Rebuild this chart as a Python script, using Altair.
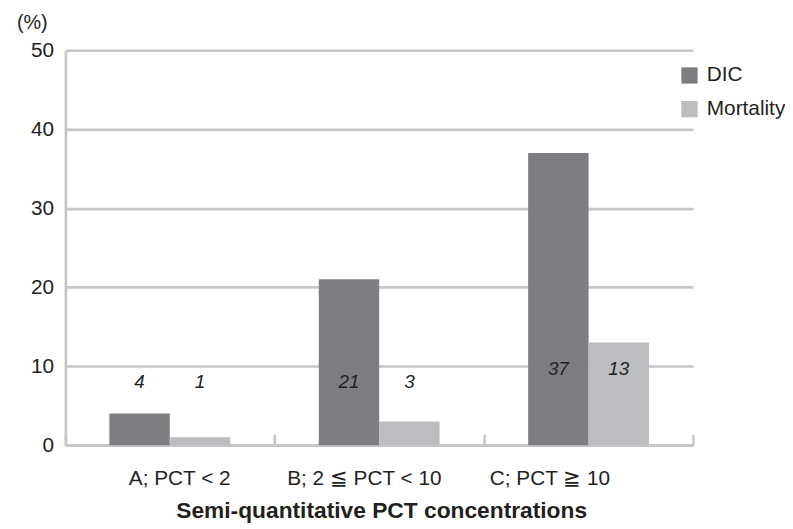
import altair as alt
import pandas as pd

categories = ["A; PCT < 2", "B; 2 ≦ PCT < 10", "C; PCT ≧ 10"]
series = ["DIC", "Mortality"]
dic_values = [4, 21, 37]
mortality_values = [1, 3, 13]
label_heights = [8.0, 8.0, 9.7]

rows = []
for i, c in enumerate(categories):
    rows.append({"cat": c, "series": "DIC", "value": dic_values[i], "lab": label_heights[i]})
    rows.append({"cat": c, "series": "Mortality", "value": mortality_values[i], "lab": label_heights[i]})
df = pd.DataFrame(rows)

FONT = "Liberation Sans"
GRID = "#c6c6c6"
TXT = "#231f20"

xscale = alt.Scale(domain=categories, paddingInner=0.423, paddingOuter=0.21)
tscale = alt.Scale(domain=categories, paddingInner=0, paddingOuter=0)
yscale = alt.Scale(domain=[0, 50], nice=False)
color = alt.Scale(domain=series, range=["#7d7e82", "#bcbdc1"])

base = alt.Chart(df)

bars = base.mark_bar().encode(
    x=alt.X("cat:N", scale=xscale, sort=categories,
            axis=alt.Axis(title="Semi-quantitative PCT concentrations", labelAngle=0,
                          labelFontSize=21, labelColor=TXT, labelPadding=23,
                          labelOffset={"expr": "substring(datum.value,0,1)=='A' ? 10 : (substring(datum.value,0,1)=='B' ? -15 : -39)"},
                          titleFontSize=23, titleFontWeight="bold", titleColor=TXT,
                          titlePadding=11, titleX=319, ticks=False, domainColor=GRID, domainWidth=2.7,
                          labelFont=FONT, titleFont=FONT, orient="bottom")),
    xOffset=alt.XOffset("series:N", sort=series),
    y=alt.Y("value:Q", scale=yscale,
            axis=alt.Axis(values=[0, 10, 20, 30, 40, 50], title="(%)", titleAngle=0,
                          titleX=-34, titleY=-22, titleAlign="center", titleBaseline="alphabetic",
                          titleFontWeight="normal",
                          titleFontSize=20, titleColor=TXT, titleFont=FONT,
                          labelFontSize=21, labelColor=TXT, labelFont=FONT, labelPadding=12,
                          ticks=False, domainColor=GRID, domainWidth=2.7,
                          gridColor=GRID, gridWidth=2.7)),
    color=alt.Color("series:N", scale=color, sort=series,
                    legend=alt.Legend(title=None, orient="none", legendX=620, legendY=15,
                                      padding=0, symbolType="square", symbolSize=270,
                                      symbolStrokeWidth=0, labelFontSize=21, labelColor=TXT,
                                      labelFont=FONT, rowPadding=12, labelOffset=7)),
)

ticks = base.mark_bar(opacity=0).encode(
    x=alt.X("cat:N", scale=tscale, sort=categories,
            axis=alt.Axis(title=None, labels=False, domain=False, grid=False, orient="bottom",
                          ticks=True, tickBand="extent", tickSize=11, tickColor=GRID,
                          tickWidth=2.5, offset=-11)),
    y=alt.Y("value:Q", scale=yscale, axis=None),
)

labels = base.mark_text(fontStyle="italic", fontSize=19, font=FONT, color=TXT).encode(
    x=alt.X("cat:N", scale=xscale, sort=categories, axis=None),
    xOffset=alt.XOffset("series:N", sort=series),
    y=alt.Y("lab:Q", scale=yscale, axis=None),
    text=alt.Text("value:Q"),
)

chart = alt.layer(bars, ticks, labels).resolve_scale(x="independent").resolve_axis(
    x="independent", y="independent").properties(
    width=634, height=399,
    autosize=alt.AutoSizeParams(type="none"),
    padding={"left": 58, "top": 40, "right": 93, "bottom": 82},
).configure_view(stroke=None).configure_axis(labelFont=FONT, titleFont=FONT)

chart.save("out.html", embed_options={"renderer": "svg", "actions": False})
